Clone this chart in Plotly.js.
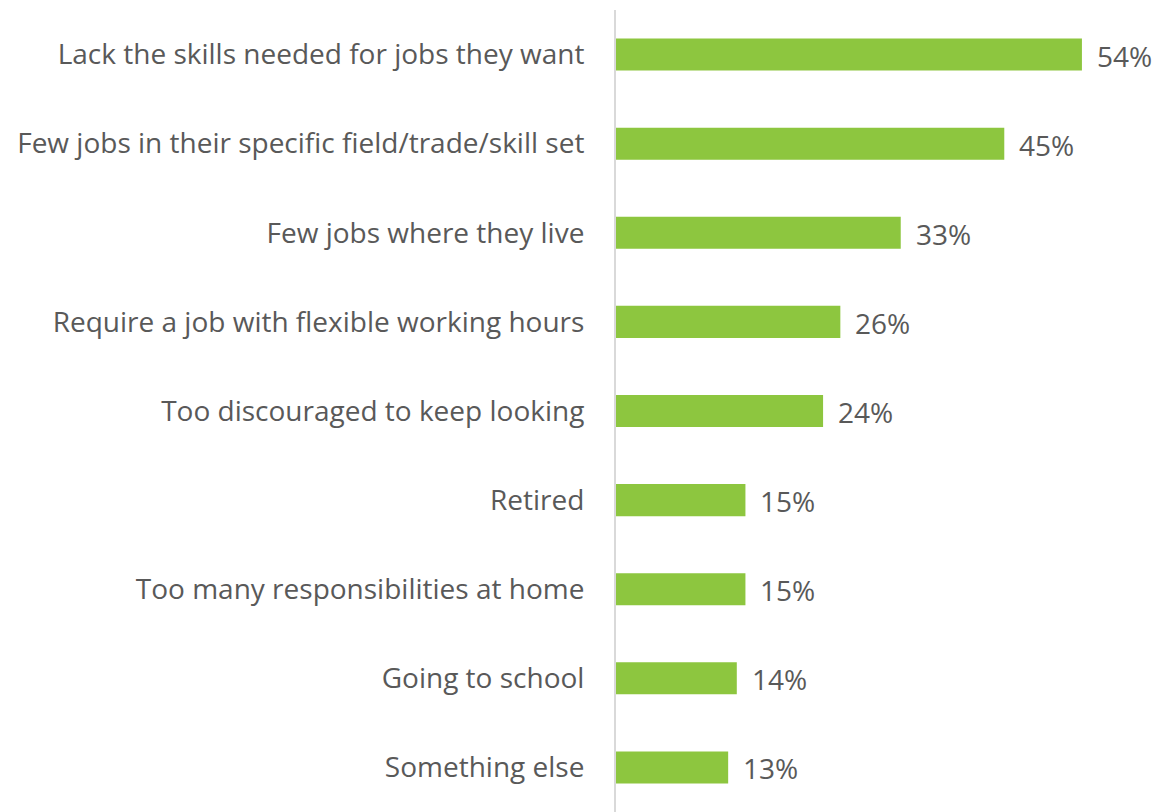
<!DOCTYPE html>
<html>
<head>
<meta charset="utf-8">
<script src="https://cdn.plot.ly/plotly-3.0.1.min.js"></script>
<style>html,body{margin:0;padding:0;background:#fff;}#chart{width:1157px;height:812px;}</style>
</head>
<body>
<div id="chart"></div>
<script>
const categories = [
  "Lack the skills needed for jobs they want",
  "Few jobs in their specific field/trade/skill set",
  "Few jobs where they live",
  "Require a job with flexible working hours",
  "Too discouraged to keep looking",
  "Retired",
  "Too many responsibilities at home",
  "Going to school",
  "Something else"
];
const values = [54, 45, 33, 26, 24, 15, 15, 14, 13];
const valueLabels = values.map(v => v + "%");

const textColor = "#595959";
const fontFam = "Open Sans, sans-serif";

const trace = {
  type: "bar",
  orientation: "h",
  x: values,
  y: categories,
  marker: {color: "#8DC63F"},
  hoverinfo: "skip"
};

const annotations = values.map((v, i) => ({
  x: v, y: categories[i], xref: "x", yref: "y",
  text: valueLabels[i], showarrow: false,
  xanchor: "left", xshift: 13, yshift: -1,
  font: {family: fontFam, size: 28, color: textColor}
}));

const layout = {
  width: 1157, height: 812,
  margin: {l: 616, r: 0, t: 10, b: 0},
  paper_bgcolor: "#fff", plot_bgcolor: "#fff",
  bargap: 0.64,
  showlegend: false,
  xaxis: {range: [0, 62.7], visible: false, fixedrange: true},
  yaxis: {
    type: "category",
    autorange: "reversed",
    showline: true, linecolor: "#d9d9d9", linewidth: 2,
    showgrid: false, zeroline: false,
    ticks: "", ticklabelstandoff: 24,
    tickfont: {family: fontFam, size: 28, color: textColor}
  },
  annotations: annotations,
  font: {family: fontFam, color: textColor}
};

Plotly.newPlot("chart", [trace], layout, {displayModeBar: false, staticPlot: true});
</script>
</body>
</html>
